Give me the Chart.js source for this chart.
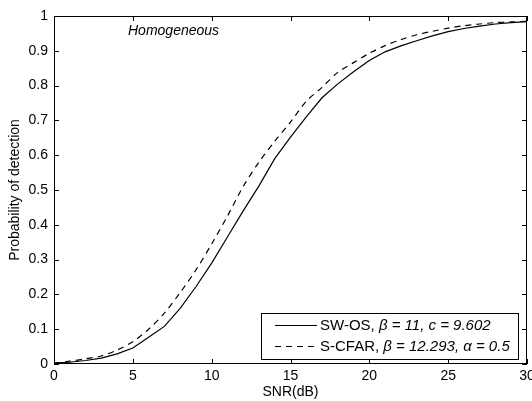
<!DOCTYPE html>
<html>
<head>
<meta charset="utf-8">
<script src="https://cdn.jsdelivr.net/npm/chart.js@4.4.0/dist/chart.umd.min.js"></script>
<style>
  html, body { margin: 0; padding: 0; background: #fff; }
</style>
</head>
<body>
<canvas id="myChart" width="532" height="401"></canvas>
<script>
// ── data ──
const snr    = [0, 1, 2, 3, 4, 5, 6, 7, 8, 9, 10, 11, 12, 13, 14, 15, 16, 17, 18, 19, 20, 21, 22, 23, 24, 25, 26, 27, 28, 29, 30];
const swOs   = [0.003, 0.005, 0.010, 0.017, 0.029, 0.046, 0.077, 0.108, 0.160, 0.222, 0.290, 0.365, 0.440, 0.512, 0.590, 0.652, 0.710, 0.765, 0.805, 0.840, 0.872, 0.897, 0.914, 0.929, 0.943, 0.955, 0.964, 0.971, 0.977, 0.981, 0.984];
const sCfar  = [0.002, 0.008, 0.015, 0.023, 0.040, 0.064, 0.100, 0.146, 0.205, 0.270, 0.345, 0.425, 0.510, 0.580, 0.640, 0.695, 0.755, 0.795, 0.838, 0.866, 0.893, 0.915, 0.932, 0.946, 0.956, 0.965, 0.972, 0.977, 0.981, 0.983, 0.985];
const xTicks = [0, 5, 10, 15, 20, 25, 30];
const yTicks = [0, 0.1, 0.2, 0.3, 0.4, 0.5, 0.6, 0.7, 0.8, 0.9, 1];

const FONT = 'Liberation Sans, Arial, sans-serif';

// legend entries: plain part + italic part
const legendRows = [
  { plain: 'SW-OS, ',  italic: '\u03B2 = 11, c = 9.602' },
  { plain: 'S-CFAR, ', italic: '\u03B2 = 12.293, \u03B1 = 0.5' }
];

// ═══════════════════════════════════════
//  FRAME + INWARD TICKS (matlab style)
// ═══════════════════════════════════════
const framePlugin = {
  id: 'frame',
  afterDraw(chart) {
    const { ctx, chartArea: a, scales } = chart;
    const len = 5;
    ctx.save();
    ctx.strokeStyle = '#000';
    ctx.lineWidth = 1;
    ctx.strokeRect(a.left + 0.5, a.top + 0.5, a.right - a.left - 1, a.bottom - a.top - 1);
    ctx.beginPath();
    scales.x.ticks.forEach(t => {
      const px = Math.round(scales.x.getPixelForValue(t.value)) + 0.5;
      ctx.moveTo(px, a.bottom); ctx.lineTo(px, a.bottom - len);
      ctx.moveTo(px, a.top);    ctx.lineTo(px, a.top + len);
    });
    scales.y.ticks.forEach(t => {
      const py = Math.round(scales.y.getPixelForValue(t.value)) + 0.5;
      ctx.moveTo(a.left, py);  ctx.lineTo(a.left + len, py);
      ctx.moveTo(a.right, py); ctx.lineTo(a.right - len, py);
    });
    ctx.stroke();

    // annotation
    ctx.fillStyle = '#000';
    ctx.font = 'italic 14px ' + FONT;
    ctx.textBaseline = 'middle';
    ctx.fillText('Homogeneous', 128, 31);
    ctx.restore();
  }
};

// ═══════════════════════════════════════
//  LEGEND BOX (lower right)
// ═══════════════════════════════════════
const legendPlugin = {
  id: 'boxLegend',
  afterDraw(chart) {
    const { ctx } = chart;
    const box = { x: 261, y: 313, w: 257, h: 46 };
    ctx.save();
    ctx.fillStyle = '#fff';
    ctx.fillRect(box.x, box.y, box.w, box.h);
    ctx.strokeStyle = '#000';
    ctx.lineWidth = 1;
    ctx.strokeRect(box.x + 0.5, box.y + 0.5, box.w, box.h);

    legendRows.forEach((row, i) => {
      const ds = chart.data.datasets[i];
      const y = box.y + 12.5 + i * 21;
      ctx.beginPath();
      ctx.setLineDash(ds.borderDash || []);
      ctx.lineWidth = ds.borderWidth;
      ctx.moveTo(box.x + 14, y);
      ctx.lineTo(box.x + 56, y);
      ctx.stroke();
      ctx.setLineDash([]);

      ctx.fillStyle = '#000';
      ctx.textBaseline = 'middle';
      let tx = box.x + 59;
      ctx.font = '15px ' + FONT;
      ctx.fillText(row.plain, tx, y);
      tx += ctx.measureText(row.plain).width;
      ctx.font = 'italic 15px ' + FONT;
      ctx.fillText(row.italic, tx, y);
    });
    ctx.restore();
  }
};

const ctx = document.getElementById('myChart').getContext('2d');

new Chart(ctx, {
  type: 'line',
  data: {
    labels: snr,
    datasets: [
      {
        label: 'SW-OS',
        data: snr.map((x, i) => ({ x, y: swOs[i] })),
        borderColor: '#000',
        borderWidth: 1.2,
        pointRadius: 0,
        fill: false,
        tension: 0
      },
      {
        label: 'S-CFAR',
        data: snr.map((x, i) => ({ x, y: sCfar[i] })),
        borderColor: '#000',
        borderWidth: 1.2,
        borderDash: [6, 5],
        pointRadius: 0,
        fill: false,
        tension: 0.3
      }
    ]
  },
  options: {
    responsive: false,
    animation: false,
    devicePixelRatio: 1,
    layout: { padding: { top: 16, right: 5, left: 0, bottom: 0 } },
    plugins: {
      legend:  { display: false },
      tooltip: { enabled: false }
    },
    scales: {
      x: {
        type: 'linear',
        min: 0,
        max: 30,
        afterBuildTicks: s => { s.ticks = xTicks.map(v => ({ value: v })); },
        afterFit: s => { s.height = 37; s.paddingLeft = 0; s.paddingRight = 0; },
        grid:   { display: false, drawTicks: false },
        border: { display: false },
        ticks:  { color: '#000', padding: 4, maxRotation: 0, font: { family: FONT, size: 14 } },
        title:  { display: true, text: 'SNR(dB)', color: '#000', padding: 0, font: { family: FONT, size: 14 } }
      },
      y: {
        type: 'linear',
        min: 0,
        max: 1,
        afterBuildTicks: s => { s.ticks = yTicks.map(v => ({ value: v })); },
        afterFit: s => { s.width = 54; s.paddingTop = 0; s.paddingBottom = 0; },
        grid:   { display: false, drawTicks: false },
        border: { display: false },
        ticks:  { color: '#000', padding: 6, callback: v => String(v), font: { family: FONT, size: 14 } },
        title:  { display: true, text: 'Probability of detection', color: '#000', padding: { top: 7, bottom: 0 }, font: { family: FONT, size: 14 } }
      }
    }
  },
  plugins: [framePlugin, legendPlugin]
});
</script>
</body>
</html>
